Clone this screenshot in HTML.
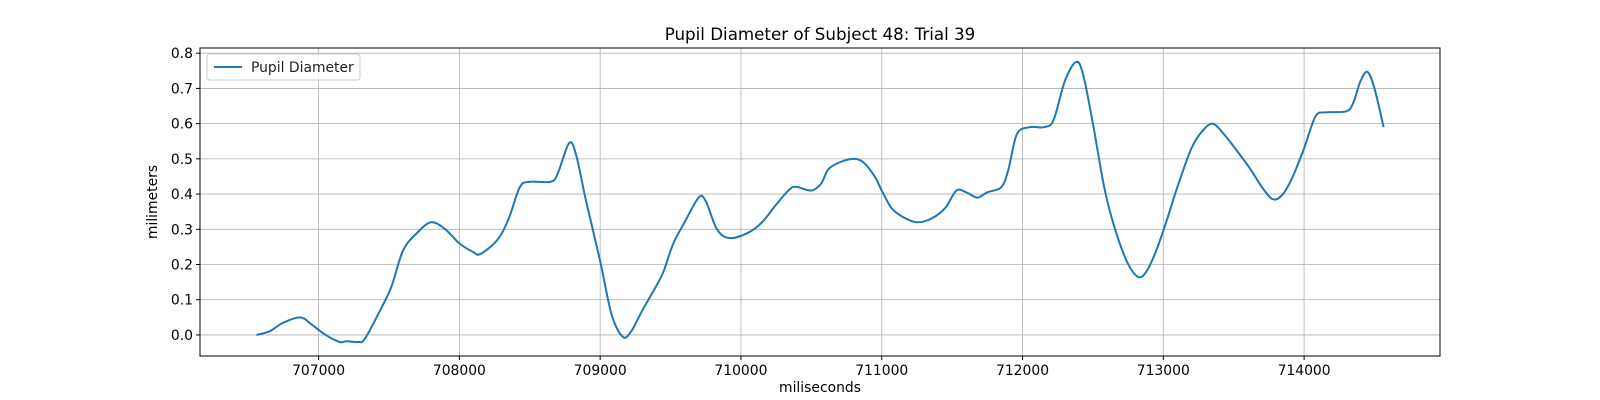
<!DOCTYPE html>
<html><head><meta charset="utf-8"><style>
body{margin:0;background:#fff}
svg{display:block;font-family:"DejaVu Sans","Liberation Sans",sans-serif}
</style></head><body>
<svg id="chart" width="1600" height="400">
<text x="820" y="40" text-anchor="middle" font-size="16.7">Pupil Diameter of Subject 48: Trial 39</text>
<text x="820" y="392" text-anchor="middle" font-size="13.9">miliseconds</text>
<text transform="translate(157,202) rotate(-90)" text-anchor="middle" font-size="13.9">milimeters</text>
<g id="grid"></g><g id="ticks"></g><g id="series"></g>
<rect x="200" y="48" width="1240" height="308" fill="none" stroke="#000" stroke-width="1"/>
<g>
<rect x="207" y="54" width="153" height="26" rx="3" fill="#fff" fill-opacity="0.8" stroke="#ccc"/>
<line x1="214" y1="67" x2="242" y2="67" stroke="#1f77b4" stroke-width="2"/>
<text x="251" y="72" font-size="13.9" fill="#222">Pupil Diameter</text>
</g>
</svg>
<script>
const xTicks=[707000,708000,709000,710000,711000,712000,713000,714000];
const yTicks=[0,0.1,0.2,0.3,0.4,0.5,0.6,0.7,0.8];
const times=[706558,706650,706750,706870,706950,707050,707150,707200,707280,707330,707450,707520,707600,707700,707800,707900,708000,708100,708150,708270,708350,708430,708500,708650,708700,708780,708830,708900,709000,709080,709160,709220,709300,709400,709450,709520,709600,709700,709750,709830,709920,710050,710150,710250,710350,710400,710500,710570,710620,710700,710800,710870,710950,711000,711070,711150,711250,711350,711450,711530,711600,711680,711750,711850,711900,711960,712050,712150,712220,712300,712380,712430,712500,712580,712650,712740,712820,712880,712950,713020,713100,713200,713280,713350,713420,713500,713620,713700,713780,713850,713920,714000,714080,714150,714300,714350,714400,714450,714500,714565];
const diam=[0,0.01,0.035,0.05,0.03,0,-0.02,-0.018,-0.02,-0.01,0.08,0.14,0.24,0.29,0.32,0.30,0.26,0.235,0.23,0.27,0.33,0.42,0.435,0.435,0.46,0.545,0.51,0.38,0.21,0.06,-0.005,0.01,0.07,0.14,0.18,0.26,0.32,0.39,0.38,0.30,0.275,0.29,0.32,0.37,0.415,0.42,0.41,0.43,0.47,0.49,0.50,0.49,0.45,0.41,0.36,0.335,0.32,0.33,0.36,0.41,0.405,0.39,0.405,0.42,0.47,0.57,0.59,0.59,0.61,0.72,0.775,0.74,0.60,0.42,0.31,0.21,0.165,0.18,0.24,0.32,0.42,0.53,0.58,0.60,0.575,0.535,0.47,0.42,0.385,0.40,0.45,0.53,0.62,0.632,0.635,0.66,0.72,0.747,0.70,0.59];
const L=200,R=1440,T=48,B=356;
const xmin=Math.min(...times),xmax=Math.max(...times),xp=(xmax-xmin)*0.05;
const ymin=Math.min(...diam),ymax=Math.max(...diam),yp=(ymax-ymin)*0.05;
const sx=v=>L+(v-(xmin-xp))/((xmax+xp)-(xmin-xp))*(R-L);
const sy=v=>B-(v-(ymin-yp))/((ymax+yp)-(ymin-yp))*(B-T);
const NS='http://www.w3.org/2000/svg';
const g=document.getElementById('grid'),tk=document.getElementById('ticks'),se=document.getElementById('series');
function mk(tag,at,par){const e=document.createElementNS(NS,tag);for(const k in at)e.setAttribute(k,at[k]);par.appendChild(e);return e;}
xTicks.forEach(v=>{const x=sx(v);
const l=mk('line',{x1:x,x2:x,y1:T,y2:B,stroke:'#b0b0b0','stroke-width':0.8},g);


const t=mk('line',{x1:x,x2:x,y1:B,y2:B+4,stroke:'#000'},tk);


const s=mk('text',{x:x,y:B+19,'text-anchor':'middle','font-size':13.9},tk);s.textContent=v;

});
yTicks.forEach(v=>{const y=sy(v);
const l=mk('line',{x1:L,x2:R,y1:y,y2:y,stroke:'#b0b0b0','stroke-width':0.8},g);


const t=mk('line',{x1:L-4,x2:L,y1:y,y2:y,stroke:'#000'},tk);


const s=mk('text',{x:L-7,y:y+5,'text-anchor':'end','font-size':13.9},tk);s.textContent=v.toFixed(1);

});
const P=times.map((t,i)=>[sx(t),sy(diam[i])]);
let d='M'+P[0][0]+','+P[0][1];
for(let i=0;i<P.length-1;i++){const p0=P[Math.max(0,i-1)],p1=P[i],p2=P[i+1],p3=P[Math.min(P.length-1,i+2)];
d+=' C'+(p1[0]+(p2[0]-p0[0])/6)+','+(p1[1]+(p2[1]-p0[1])/6)+' '+(p2[0]-(p3[0]-p1[0])/6)+','+(p2[1]-(p3[1]-p1[1])/6)+' '+p2[0]+','+p2[1];}
const line=mk('path',{d:d,fill:'none',stroke:'#1f77b4','stroke-width':2},se);


</script>
</body></html>
